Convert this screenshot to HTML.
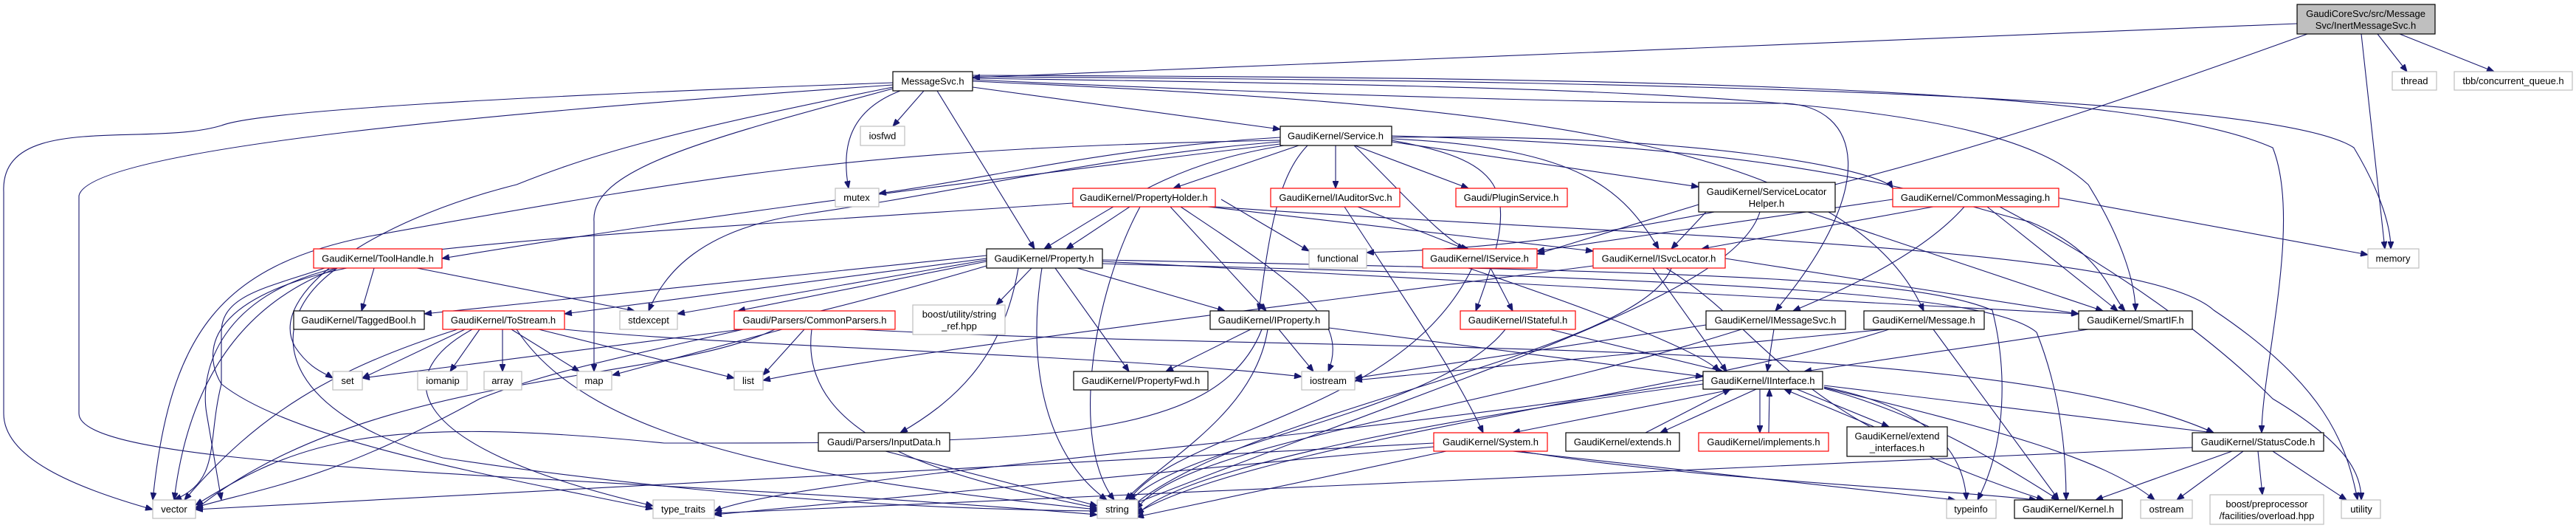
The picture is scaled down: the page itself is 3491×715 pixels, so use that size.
<!DOCTYPE html>
<html><head><meta charset="utf-8"><style>
html,body{margin:0;padding:0;background:#fff}
svg{display:block}
text{font-family:"Liberation Sans",sans-serif;font-size:13px;fill:#000;text-anchor:middle}
.e{fill:none;stroke:#191970;stroke-width:1.1}
.b{fill:#fff;stroke:#000;stroke-width:1.2}
.r{fill:#fff;stroke:#f00;stroke-width:1.2}
.g{fill:#fff;stroke:#bfbfbf;stroke-width:1.2}
</style></head><body>
<svg width="3491" height="715" viewBox="0 0 3491 715" xmlns="http://www.w3.org/2000/svg">
<defs><marker id="a" viewBox="0 0 10 8" refX="10" refY="4" markerWidth="10" markerHeight="8" markerUnits="userSpaceOnUse" orient="auto"><path d="M0,0 L10,4 L0,8 z" fill="#191970" stroke="#191970"/></marker></defs>
<g class="e" marker-end="url(#a)">
<!-- top node -->
<path d="M3113,32 L1318,105"/>
<path d="M3127,46 C2700,200 2300,330 1852,342"/>
<path d="M3200,46 L3232,337"/>
<path d="M3222,46 L3262,97"/>
<path d="M3252,46 L3380,97"/>
<!-- MessageSvc -->
<path d="M1210,112 C700,130 350,150 300,170 C200,200 0,150 5,260 L5,560 C5,620 100,660 207,690"/>
<path d="M1210,115 C700,150 120,200 107,265 L107,560 C107,640 800,640 1487,697"/>
<path d="M1210,118 C900,180 800,210 700,250 C500,300 360,400 400,470 C420,500 440,505 451,512"/>
<path d="M1210,120 C950,190 800,230 805,300 L805,503"/>
<path d="M1220,123 C1150,150 1140,200 1150,255"/>
<path d="M1252,123 L1210,171"/>
<path d="M1270,123 L1402,337"/>
<path d="M1318,118 L1735,175"/>
<path d="M1318,108 C1800,130 2200,140 2420,140 C2520,145 2550,250 2406,421"/>
<path d="M1318,110 C2000,140 2500,180 2607,421"/>
<path d="M1318,106 C2300,120 2700,130 2830,250 C2880,330 2894,390 2894,421"/>
<path d="M1318,104 C2500,110 3100,140 3190,200 C3220,250 3240,300 3240,337"/>
<path d="M1318,102 C2300,105 2900,120 3080,200 C3120,300 3065,500 3065,586"/>
<!-- Service -->
<path d="M1735,186 C1500,200 1350,240 1191,262"/>
<path d="M1735,190 C1200,200 1000,230 500,320 C300,360 230,450 207,677"/>
<path d="M1735,192 C1500,210 1300,260 1090,290 C950,310 900,370 879,421"/>
<path d="M1760,197 L1590,255"/>
<path d="M1740,197 C1600,220 1540,260 1415,337"/>
<path d="M1772,197 C1730,240 1720,320 1706,421"/>
<path d="M1810,197 L1810,255"/>
<path d="M1836,197 L1990,255"/>
<path d="M1835,197 C1900,260 1960,330 1990,337"/>
<path d="M1886,190 C2050,220 2060,260 2000,421"/>
<path d="M1886,188 C2150,200 2200,260 2248,337"/>
<path d="M1886,192 L2302,253"/>
<path d="M1886,186 C2300,180 2550,230 2565,255"/>
<path d="M1886,184 C2500,200 2650,280 2750,300 C2850,340 2860,400 2880,421"/>
<path d="M1735,195 C1200,260 900,300 599,350"/>
<!-- PropertyHolder -->
<path d="M1531,280 L1445,337"/>
<path d="M1586,280 L1716,421"/>
<path d="M1655,270 L1774,340"/>
<path d="M1545,280 C1480,400 1450,600 1510,677"/>
<path d="M1600,280 C1750,380 1830,430 1800,503"/>
<path d="M1620,278 L2159,340"/>
<path d="M1454,275 C1100,300 700,320 500,350 C300,400 250,560 236,677"/>
<path d="M1647,280 C2200,320 2900,330 3000,420 C3150,520 3180,600 3195,677"/>
<!-- IAuditorSvc -->
<path d="M1840,280 L1985,337"/>
<path d="M1822,280 C1900,400 1970,500 2010,586"/>
<!-- SLH -->
<path d="M2302,277 L2083,344"/>
<path d="M2312,287 L2265,337"/>
<path d="M2450,287 L2850,421"/>
<path d="M2385,287 C2350,400 2000,500 1530,685"/>
<!-- CommonMessaging -->
<path d="M2565,270 L2083,340"/>
<path d="M2620,280 L2306,337"/>
<path d="M2662,280 C2600,350 2480,400 2430,421"/>
<path d="M2693,280 L2870,421"/>
<path d="M2790,268 L3209,345"/>
<path d="M2710,280 C2900,380 3020,480 3080,540 C3180,600 3200,640 3200,677"/>
<!-- ToolHandle -->
<path d="M507,363 L490,421"/>
<path d="M565,363 L860,421"/>
<path d="M440,363 C360,390 300,400 300,450 L300,520 C280,600 300,650 236,677"/>
<path d="M455,363 C300,400 270,500 280,560 L300,677"/>
<path d="M470,363 C290,400 270,470 300,520 C400,600 700,650 885,689"/>
<path d="M457,363 C350,440 380,560 600,620 C1000,680 1300,690 1487,692"/>
<!-- Property -->
<path d="M1337,350 L765,425"/>
<path d="M1337,354 L1000,421"/>
<path d="M1337,346 L575,425"/>
<path d="M1337,352 L918,425"/>
<path d="M1398,363 L1350,413"/>
<path d="M1460,363 L1660,421"/>
<path d="M1430,363 L1530,503"/>
<path d="M1380,363 C1360,480 1300,540 1220,586"/>
<path d="M1412,363 C1390,500 1420,620 1500,677"/>
<path d="M1494,354 L2817,425"/>
<path d="M1494,357 C2400,380 2700,400 2760,450 C2800,550 2800,650 2800,677"/>
<path d="M1494,352 C2400,370 2600,380 2700,420 C2720,500 2720,600 2680,677"/>
<path d="M1337,360 C1000,460 800,480 650,540 C450,650 360,660 265,687"/>
<!-- ToStream -->
<path d="M630,446 L491,512"/>
<path d="M650,446 L610,503"/>
<path d="M681,446 L681,503"/>
<path d="M693,446 L785,503"/>
<path d="M730,446 L995,512"/>
<path d="M620,446 C450,500 350,560 250,677"/>
<path d="M640,446 C540,500 520,600 885,685"/>
<path d="M700,446 C800,600 1100,650 1487,690"/>
<path d="M765,446 C1000,470 1500,480 1764,510"/>
<!-- CommonParsers -->
<path d="M1005,446 L491,512"/>
<path d="M1060,446 L830,508"/>
<path d="M1090,446 L1034,508"/>
<path d="M1050,446 C900,520 500,500 265,690"/>
<path d="M1100,446 C1080,600 1300,650 1487,688"/>
<path d="M1160,446 C1800,480 2700,450 3000,586"/>
<!-- IProperty -->
<path d="M1695,446 L1580,503"/>
<path d="M1733,446 L1780,503"/>
<path d="M1718,446 C1700,560 1580,620 1525,677"/>
<path d="M1801,444 L2308,510"/>
<path d="M1710,446 C1650,600 1400,600 900,600 C500,560 400,600 265,684"/>
<!-- IService -->
<path d="M2020,363 L2050,421"/>
<path d="M1995,363 C1900,560 1600,580 1530,677"/>
<path d="M1990,363 C2100,400 2300,470 2330,503"/>
<!-- IStateful -->
<path d="M2040,446 C1950,560 1600,600 1530,680"/>
<path d="M2100,446 L2335,503"/>
<!-- ISvcLocator -->
<path d="M2338,350 L2817,425"/>
<path d="M2265,363 C2220,480 1700,550 1535,685"/>
<path d="M2240,363 L2340,503"/>
<path d="M2258,363 C2400,450 2410,560 2770,677"/>
<path d="M2159,360 C1700,420 1200,480 1034,515"/>
<!-- IMessageSvc -->
<path d="M2404,446 L2395,503"/>
<path d="M2360,446 C2000,560 1600,600 1540,690"/>
<path d="M2312,440 L1836,512"/>
<!-- Message -->
<path d="M2620,446 L2790,677"/>
<path d="M2560,446 C2300,530 1700,600 1540,695"/>
<path d="M2555,446 L1836,515"/>
<!-- SmartIF -->
<path d="M2830,446 L2445,503"/>
<!-- IInterface -->
<path d="M2350,527 L2050,586"/>
<path d="M2380,527 L2250,586"/>
<path d="M2385,527 L2385,586"/>
<path d="M2435,527 L2560,578"/>
<path d="M2472,522 L3000,586"/>
<path d="M2472,524 C2600,550 2660,600 2665,677"/>
<path d="M2472,526 C2600,560 2700,620 2790,677"/>
<path d="M2472,525 C2700,580 2850,620 2920,677"/>
<path d="M2308,520 C2000,560 1600,630 1540,698"/>
<path d="M2308,515 C1800,600 1100,640 968,692"/>
<!-- back edges -->
<path d="M2230,586 L2345,527"/>
<path d="M2397,586 L2398,527"/>
<path d="M2540,578 L2418,527"/>
<!-- System -->
<path d="M1960,611 L1540,700"/>
<path d="M1943,600 L265,690"/>
<path d="M2050,611 L2650,677"/>
<path d="M2060,611 C2300,650 2600,660 2760,677"/>
<path d="M1943,605 L968,697"/>
<!-- StatusCode -->
<path d="M3025,611 L2840,677"/>
<path d="M3040,611 L2950,677"/>
<path d="M3060,611 L3066,670"/>
<path d="M3080,611 L3180,677"/>
<path d="M2971,606 L968,695"/>
<!-- InputData -->
<path d="M1200,611 L1487,685"/>
</g>
<!-- nodes -->
<g>
<rect x="3113" y="6" width="187" height="40" style="fill:#bfbfbf;stroke:#000;stroke-width:1.2"/><text x="3206" y="23">GaudiCoreSvc/src/Message</text><text x="3206" y="39">Svc/InertMessageSvc.h</text>
<rect class="b" x="1210" y="97" width="108" height="26"/><text x="1264" y="114.5">MessageSvc.h</text>
<rect class="g" x="3242" y="97" width="60" height="25"/><text x="3272" y="114">thread</text>
<rect class="g" x="3326" y="97" width="160" height="25"/><text x="3406" y="114">tbb/concurrent_queue.h</text>
<rect class="g" x="1166" y="171" width="60" height="26"/><text x="1196" y="188.5">iosfwd</text>
<rect class="b" x="1735" y="171" width="151" height="26"/><text x="1810" y="188.5">GaudiKernel/Service.h</text>
<rect class="g" x="1132" y="255" width="59" height="25"/><text x="1161" y="272">mutex</text>
<rect class="r" x="1454" y="255" width="193" height="25"/><text x="1550" y="272">GaudiKernel/PropertyHolder.h</text>
<rect class="r" x="1722" y="255" width="175" height="25"/><text x="1810" y="272">GaudiKernel/IAuditorSvc.h</text>
<rect class="r" x="1973" y="255" width="151" height="25"/><text x="2048" y="272">Gaudi/PluginService.h</text>
<rect class="b" x="2302" y="247" width="185" height="40"/><text x="2394" y="264">GaudiKernel/ServiceLocator</text><text x="2394" y="280">Helper.h</text>
<rect class="r" x="2565" y="255" width="225" height="25"/><text x="2677" y="272">GaudiKernel/CommonMessaging.h</text>
<rect class="r" x="425" y="337" width="174" height="26"/><text x="512" y="354.5">GaudiKernel/ToolHandle.h</text>
<rect class="b" x="1337" y="337" width="157" height="26"/><text x="1415" y="354.5">GaudiKernel/Property.h</text>
<rect class="g" x="1774" y="337" width="78" height="26"/><text x="1813" y="354.5">functional</text>
<rect class="r" x="1928" y="337" width="155" height="26"/><text x="2005" y="354.5">GaudiKernel/IService.h</text>
<rect class="r" x="2159" y="337" width="179" height="26"/><text x="2248" y="354.5">GaudiKernel/ISvcLocator.h</text>
<rect class="g" x="3209" y="337" width="69" height="26"/><text x="3243" y="354.5">memory</text>
<rect class="b" x="398" y="421" width="177" height="25"/><text x="486" y="438">GaudiKernel/TaggedBool.h</text>
<rect class="r" x="600" y="421" width="165" height="25"/><text x="682" y="438">GaudiKernel/ToStream.h</text>
<rect class="g" x="840" y="421" width="78" height="25"/><text x="879" y="438">stdexcept</text>
<rect class="r" x="995" y="421" width="218" height="25"/><text x="1104" y="438">Gaudi/Parsers/CommonParsers.h</text>
<rect class="g" x="1237" y="413" width="125" height="40"/><text x="1300" y="430">boost/utility/string</text><text x="1300" y="446">_ref.hpp</text>
<rect class="b" x="1640" y="421" width="161" height="25"/><text x="1720" y="438">GaudiKernel/IProperty.h</text>
<rect class="r" x="1979" y="421" width="156" height="25"/><text x="2057" y="438">GaudiKernel/IStateful.h</text>
<rect class="b" x="2312" y="421" width="189" height="25"/><text x="2406" y="438">GaudiKernel/IMessageSvc.h</text>
<rect class="b" x="2526" y="421" width="163" height="25"/><text x="2607" y="438">GaudiKernel/Message.h</text>
<rect class="b" x="2817" y="421" width="154" height="25"/><text x="2894" y="438">GaudiKernel/SmartIF.h</text>
<rect class="g" x="451" y="503" width="40" height="25"/><text x="471" y="520">set</text>
<rect class="g" x="566" y="503" width="67" height="25"/><text x="600" y="520">iomanip</text>
<rect class="g" x="656" y="503" width="51" height="25"/><text x="681" y="520">array</text>
<rect class="g" x="782" y="503" width="47" height="25"/><text x="805" y="520">map</text>
<rect class="g" x="995" y="503" width="39" height="25"/><text x="1014" y="520">list</text>
<rect class="b" x="1455" y="503" width="182" height="25"/><text x="1546" y="520">GaudiKernel/PropertyFwd.h</text>
<rect class="g" x="1764" y="503" width="72" height="25"/><text x="1800" y="520">iostream</text>
<rect class="b" x="2308" y="503" width="162" height="24"/><text x="2389" y="520">GaudiKernel/IInterface.h</text>
<rect class="b" x="1109" y="586" width="178" height="25"/><text x="1198" y="603">Gaudi/Parsers/InputData.h</text>
<rect class="r" x="1943" y="586" width="154" height="25"/><text x="2020" y="603">GaudiKernel/System.h</text>
<rect class="b" x="2122" y="586" width="154" height="25"/><text x="2199" y="603">GaudiKernel/extends.h</text>
<rect class="r" x="2302" y="586" width="176" height="25"/><text x="2390" y="603">GaudiKernel/implements.h</text>
<rect class="b" x="2503" y="578" width="136" height="40"/><text x="2571" y="595">GaudiKernel/extend</text><text x="2571" y="611">_interfaces.h</text>
<rect class="b" x="2971" y="586" width="178" height="25"/><text x="3060" y="603">GaudiKernel/StatusCode.h</text>
<rect class="g" x="207" y="677" width="58" height="25"/><text x="236" y="694">vector</text>
<rect class="g" x="885" y="677" width="83" height="25"/><text x="926" y="694">type_traits</text>
<rect class="g" x="1487" y="677" width="55" height="25"/><text x="1514" y="694">string</text>
<rect class="g" x="2638" y="677" width="67" height="25"/><text x="2671" y="694">typeinfo</text>
<rect class="b" x="2730" y="677" width="146" height="25"/><text x="2803" y="694">GaudiKernel/Kernel.h</text>
<rect class="g" x="2901" y="677" width="70" height="25"/><text x="2936" y="694">ostream</text>
<rect class="g" x="2995" y="670" width="154" height="40"/><text x="3072" y="687">boost/preprocessor</text><text x="3072" y="703">/facilities/overload.hpp</text>
<rect class="g" x="3173" y="677" width="53" height="25"/><text x="3200" y="694">utility</text>
</g>
</svg>
</body></html>
